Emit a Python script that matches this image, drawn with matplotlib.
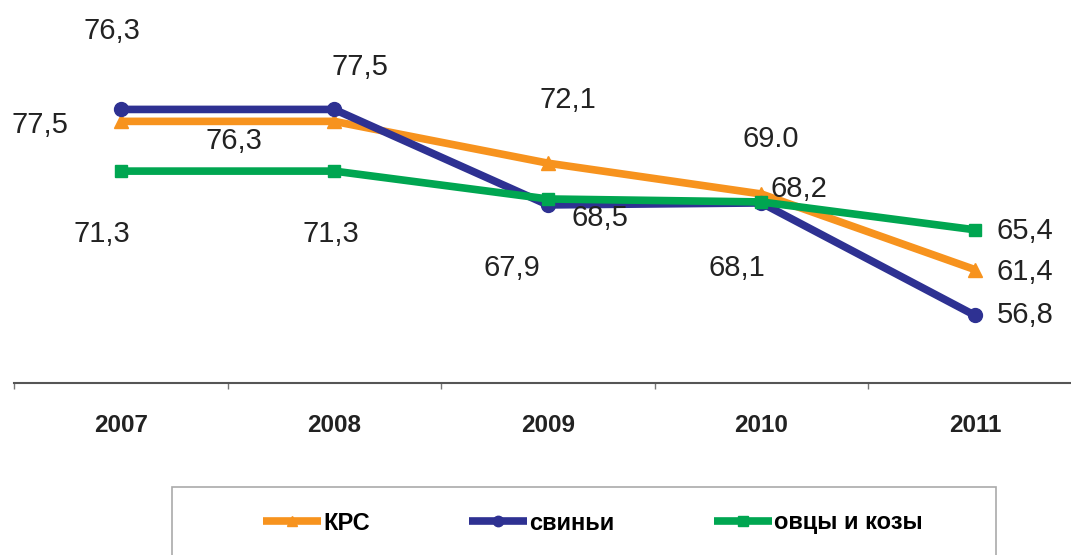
import numpy as np
import matplotlib.pyplot as plt
from matplotlib.patches import Rectangle

# data
years = ['2007', '2008', '2009', '2010', '2011']
krs = [76.3, 76.3, 72.1, 69.0, 61.4]
svini = [77.5, 77.5, 67.9, 68.1, 56.8]
ovcy = [71.3, 71.3, 68.5, 68.2, 65.4]
krs_labels = ['76,3', '76,3', '72,1', '69.0', '61,4']
svini_labels = ['77,5', '77,5', '67,9', '68,1', '56,8']
ovcy_labels = ['71,3', '71,3', '68,5', '68,2', '65,4']

# label offsets (pixels) as in the original layout
krs_off = [(-9, 90), (-100, -20), (20, 63), (9, 55), (50, -2)]
svini_off = [(-81, -16), (26, 42), (-36, -63), (-24, -65), (50, 0)]
ovcy_off = [(-19, -63), (-3, -63), (52, -19), (38, 13), (50, -1)]

plt.rcParams['font.family'] = ['Liberation Sans', 'DejaVu Sans']

fig = plt.figure(figsize=(10.71, 5.55), dpi=100)
ax = fig.add_axes([14 / 1071, 1 - 383 / 555, 1 - 14 / 1071, 383 / 555])

x = np.arange(len(years))
series = [
    ('КРС', krs, krs_labels, krs_off, '#F7931E', '^', 10),
    ('свиньи', svini, svini_labels, svini_off, '#2E3192', 'o', 10),
    ('овцы и козы', ovcy, ovcy_labels, ovcy_off, '#00A651', 's', 9),
]
handles = []
for z, (name, vals, labs, offs, col, mk, ms) in enumerate(series):
    h, = ax.plot(x, vals, color=col, lw=5.5, marker=mk, markersize=ms,
                 zorder=2 + z, label=name, solid_capstyle='butt')
    handles.append(h)
    for xi, v, lab, off in zip(x, vals, labs, offs):
        ax.annotate(lab, (xi, v), xytext=off, textcoords='offset pixels',
                    ha='center', va='center', fontsize=21, color='#222222',
                    zorder=10)

ax.set_xlim(-0.5, 4.45)
ax.set_ylim(50, 88.5)
ax.set_xticks(x)
ax.set_xticklabels(years, fontsize=17.5, fontweight='bold', color='#222222')
ax.set_xticks(np.arange(-0.5, 4.5, 1), minor=True)
ax.tick_params(axis='x', which='major', length=0, pad=22)
ax.tick_params(axis='x', which='minor', length=4, width=1, color='#777777')
ax.set_yticks([])
for s in ['top', 'right', 'left']:
    ax.spines[s].set_visible(False)
ax.spines['bottom'].set_color('#555555')
ax.spines['bottom'].set_linewidth(1.5)

# legend box
fig.patches.append(Rectangle((172 / 1071, -0.05), (996 - 172) / 1071, 0.05 + 1 - 487 / 555,
                             transform=fig.transFigure, fill=False,
                             edgecolor='#aaaaaa', lw=1.2))
fig.legend(handles=handles, loc='center', bbox_to_anchor=(593 / 1071, 1 - 523 / 555),
           ncol=3, frameon=False, handlelength=2.45, handletextpad=0.1,
           columnspacing=4.2, markerscale=0.75,
           prop={'weight': 'bold', 'size': 17})

fig.savefig('out.png', dpi=100)
